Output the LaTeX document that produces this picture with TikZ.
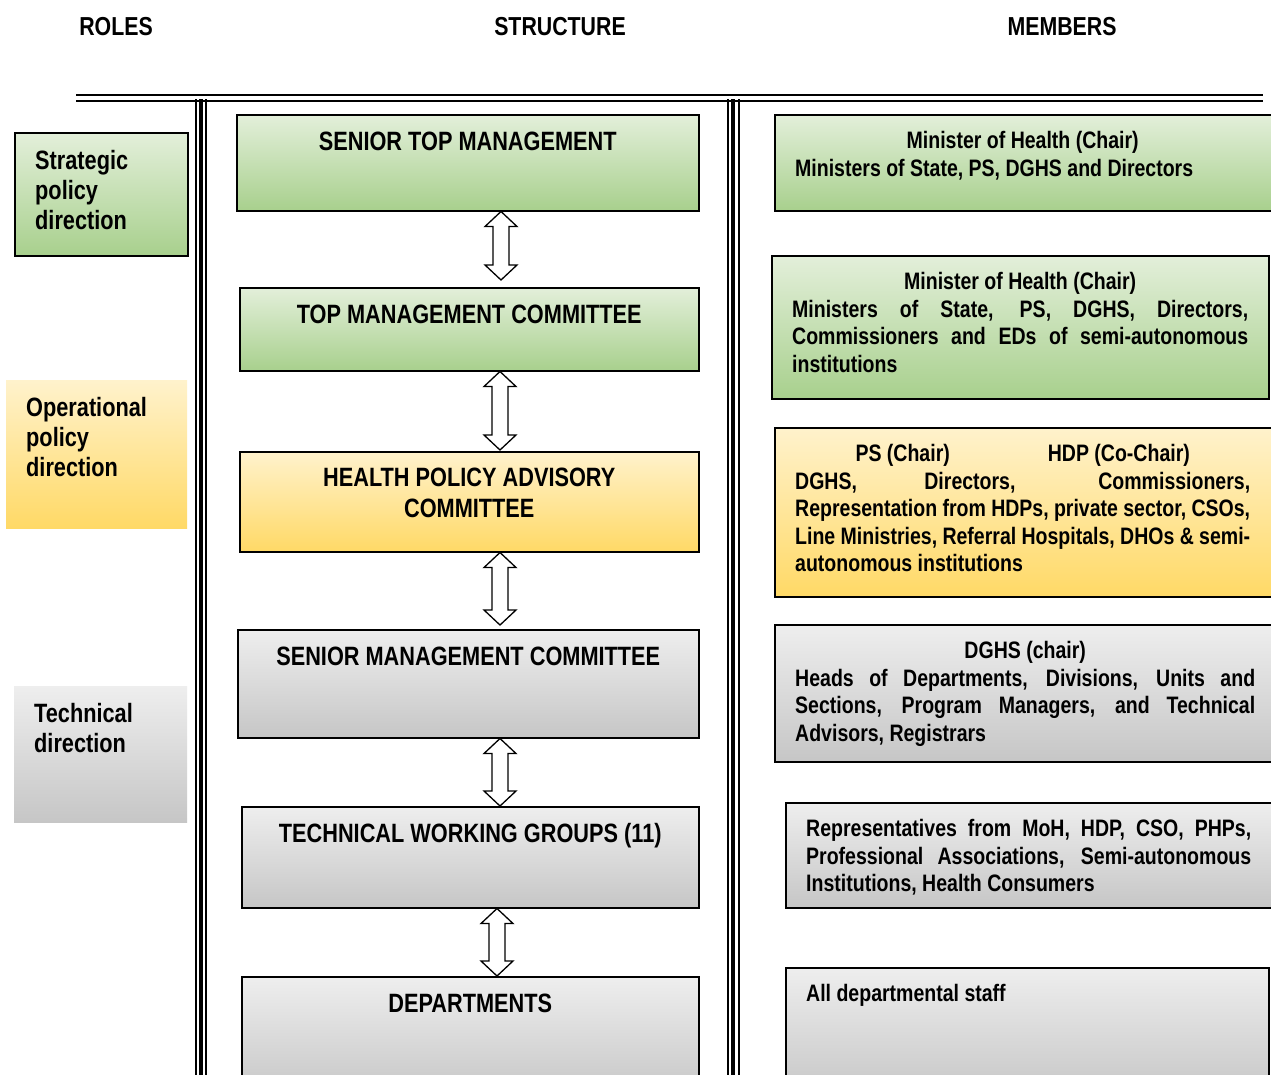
\documentclass[tikz,border=0pt]{standalone}
\usepackage{fontspec}
\setmainfont{Liberation Sans}[FakeStretch=0.82]
\usetikzlibrary{calc}
\definecolor{gtop}{HTML}{E3EFDA}
\definecolor{gbot}{HTML}{A8D08D}
\definecolor{ytop}{HTML}{FFF2CC}
\definecolor{ybot}{HTML}{FFD966}
\definecolor{ktop}{HTML}{EEEEEE}
\definecolor{kbot}{HTML}{C6C6C6}
\tolerance=9999
\hyphenpenalty=10000
% block double arrow: x, from node, to node, gap above target
\newcommand\blockarr[4]{%
  \draw[blockarrow] let \p1=(#2.south), \p2=(#3.north) in
    (#1,\y1) -- (#1+16,\y1-15) -- (#1+8,\y1-15) -- (#1+8,\y2+15+#4)
    -- (#1+16,\y2+15+#4) -- (#1,\y2+#4) -- (#1-16,\y2+15+#4)
    -- (#1-8,\y2+15+#4) -- (#1-8,\y1-15) -- (#1-16,\y1-15) -- cycle;}
\begin{document}
\begin{tikzpicture}[x=1pt,y=-1pt,
  frame/.style={draw=black, line width=1.5pt, inner sep=0pt, anchor=north west},
  plainbox/.style={inner sep=0pt, anchor=north west},
  greenfill/.style={top color=gtop, bottom color=gbot},
  yellowfill/.style={top color=ytop, bottom color=ybot},
  grayfill/.style={top color=ktop, bottom color=kbot},
  headtxt/.style={font=\bfseries\fontsize{26}{30}\selectfont, inner sep=0pt, anchor=base},
  bigtxt/.style={font=\bfseries\fontsize{26.5}{30}\selectfont, inner sep=0pt},
  memtxt/.style={font=\bfseries\fontsize{23.8}{27.5}\selectfont, inner sep=0pt, anchor=base west, align=justify},
  blockarrow/.style={draw=black, line width=1.3pt, fill=white, line join=miter}]
\useasboundingbox (0,0) rectangle (1271,1074);
\clip (0,0) rectangle (1271,1074);
\fill[white] (0,0) rectangle (1271,1074);

% headers
\node[headtxt] (hroles) at (116,35.3) {ROLES};
\node[headtxt] (hstruct) at (560,35.3) {STRUCTURE};
\node[headtxt] (hmem) at (1062,35.3) {MEMBERS};

% rules
\draw[line width=2.2pt] (76,95) -- (1263,95);
\draw[line width=2pt] (76,100.5) -- (1263,100.5);
\foreach \x/\w in {196/1.6, 201/4, 206/1.6, 728/1.6, 733.3/4, 738.8/1.6}
  \draw[line width=\w pt] (\x,99) -- (\x,1080);

% roles
\node[frame, greenfill, minimum width=173, minimum height=123] (r1) at (14,132) {};
\node[plainbox, yellowfill, minimum width=181, minimum height=148] (r2) at (6,380) {};
\node[plainbox, grayfill, minimum width=173, minimum height=136] (r3) at (14,686) {};
\node[bigtxt, anchor=base west, align=left] (r1t) at ([xshift=21pt,yshift=-97.5pt]r1.north west) {Strategic\\policy\\direction};
\node[bigtxt, anchor=base west, align=left] (r2t) at ([xshift=20pt,yshift=-96.5pt]r2.north west) {Operational\\policy\\direction};
\node[bigtxt, anchor=base west, align=left] (r3t) at ([xshift=20pt,yshift=-66.5pt]r3.north west) {Technical\\direction};

% structure
\node[frame, greenfill, minimum width=462, minimum height=96] (s1) at (236,114) {};
\node[frame, greenfill, minimum width=459, minimum height=83] (s2) at (239,287) {};
\node[frame, yellowfill, minimum width=459, minimum height=100] (s3) at (239,451) {};
\node[frame, grayfill, minimum width=461, minimum height=108] (s4) at (237,629) {};
\node[frame, grayfill, minimum width=457, minimum height=101] (s5) at (241,806) {};
\node[frame, grayfill, minimum width=457, minimum height=120] (s6) at (241,976) {};
\node[bigtxt, anchor=base] (s1t) at ([yshift=-36.5pt]s1.north) {SENIOR TOP MANAGEMENT};
\node[bigtxt, anchor=base] (s2t) at ([yshift=-36.5pt]s2.north) {TOP MANAGEMENT COMMITTEE};
\node[bigtxt, anchor=base, align=center, font=\bfseries\fontsize{26.5}{31}\selectfont] (s3t) at ([yshift=-66.5pt]s3.north) {HEALTH POLICY ADVISORY\\COMMITTEE};
\node[bigtxt, anchor=base] (s4t) at ([yshift=-36.5pt]s4.north) {SENIOR MANAGEMENT COMMITTEE};
\node[bigtxt, anchor=base] (s5t) at ([yshift=-36.5pt]s5.north) {TECHNICAL WORKING GROUPS (11)};
\node[bigtxt, anchor=base] (s6t) at ([yshift=-36.5pt]s6.north) {DEPARTMENTS};

% arrows
\blockarr{501}{s1}{s2}{7}
\blockarr{500}{s2}{s3}{1}
\blockarr{500}{s3}{s4}{4}
\blockarr{500}{s4}{s5}{0}
\blockarr{497}{s5}{s6}{0}

% members
\node[frame, greenfill, minimum width=520, minimum height=96] (m1) at (774,114) {};
\node[frame, greenfill, minimum width=497, minimum height=143] (m2) at (771,255) {};
\node[frame, yellowfill, minimum width=520, minimum height=169] (m3) at (774,427) {};
\node[frame, grayfill, minimum width=520, minimum height=137] (m4) at (774,624) {};
\node[frame, grayfill, minimum width=510, minimum height=105] (m5) at (785,802) {};
\node[frame, grayfill, minimum width=483, minimum height=130] (m6) at (785,967) {};

\node[memtxt, text width=455pt] (m1t) at ([xshift=21pt,yshift=-34.6pt]m1.north west)
  {{\centering Minister of Health (Chair)\par}Ministers of State, PS, DGHS and Directors};
\node[memtxt, text width=456pt] (m2t) at ([xshift=21pt,yshift=-34.6pt]m2.north west)
  {{\centering Minister of Health (Chair)\par}Ministers of State, PS, DGHS, Directors,\linebreak Commissioners and EDs of semi-autonomous\linebreak institutions};
\node[memtxt, text width=455pt] (m3t) at ([xshift=21pt,yshift=-34.6pt]m3.north west)
  {{\centering PS (Chair)\hspace{98pt}HDP (Co-Chair)\par}DGHS, Directors, Commissioners,\linebreak Representation from HDPs, private sector, CSOs,\linebreak Line Ministries, Referral Hospitals, DHOs \& semi-\linebreak autonomous institutions};
\node[memtxt, text width=460pt] (m4t) at ([xshift=21pt,yshift=-34.6pt]m4.north west)
  {{\centering DGHS (chair)\par}Heads of Departments, Divisions, Units and\linebreak Sections, Program Managers, and Technical\linebreak Advisors, Registrars};
\node[memtxt, text width=445pt] (m5t) at ([xshift=21pt,yshift=-34.6pt]m5.north west)
  {Representatives from MoH, HDP, CSO, PHPs,\linebreak Professional Associations, Semi-autonomous\linebreak Institutions, Health Consumers};
\node[memtxt, text width=440pt] (m6t) at ([xshift=21pt,yshift=-34.6pt]m6.north west)
  {All departmental staff};
\end{tikzpicture}
\end{document}
